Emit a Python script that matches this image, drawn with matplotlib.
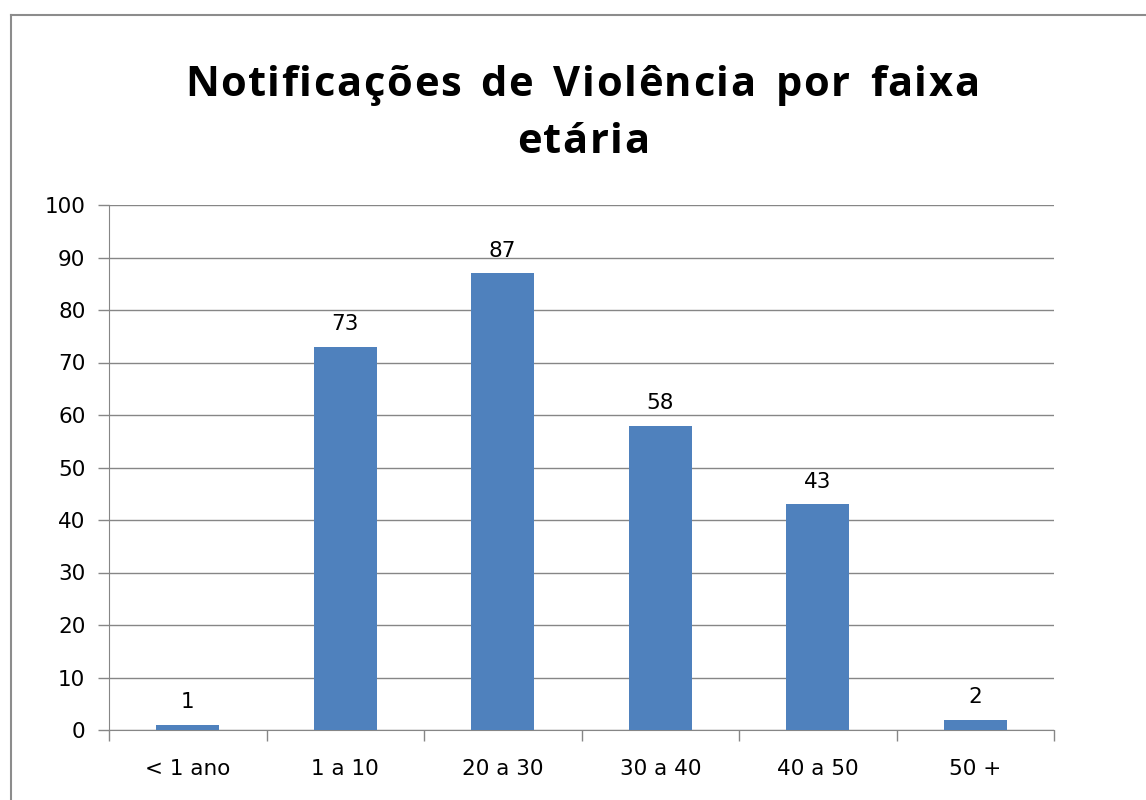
import matplotlib
matplotlib.use("Agg")
import matplotlib.pyplot as plt
from matplotlib.lines import Line2D
from matplotlib.font_manager import FontProperties, findfont, get_font

categories = ["< 1 ano", "1 a 10", "20 a 30", "30 a 40", "40 a 50", "50 +"]
values = [1, 73, 87, 58, 43, 2]
yticks = [0, 10, 20, 30, 40, 50, 60, 70, 80, 90, 100]
title_lines = ["Notificações de Violência por faixa", "etária"]

plt.rcParams['font.family'] = ['DejaVu Sans']

W, H = 1146, 800
DPI = 100
fig = plt.figure(figsize=(W / DPI, H / DPI), dpi=DPI)
fig.patch.set_facecolor("white")

# outer chart border (left and top visible)
fig.add_artist(Line2D([11 / W, 11 / W], [0, 1 - 15 / H], transform=fig.transFigure, color="#8c8c8c", lw=1.5))
fig.add_artist(Line2D([11 / W, 1], [1 - 15 / H, 1 - 15 / H], transform=fig.transFigure, color="#8c8c8c", lw=1.5))

x0, x1 = 109, 1054
y0, y1 = 730, 205
ax = fig.add_axes([x0 / W, 1 - y0 / H, (x1 - x0) / W, (y0 - y1) / H])

LBL = 15.5
xs = list(range(len(categories)))
ax.bar(xs, values, width=0.4, color="#4F81BD", zorder=3)
for x, v in zip(xs, values):
    ax.annotate(str(v), (x, v), xytext=(0, 12), textcoords="offset points",
                ha="center", va="baseline", fontsize=LBL, color="black")

ax.set_xlim(-0.5, len(categories) - 0.5)
ax.set_ylim(0, 100)
ax.set_yticks(yticks)
ax.set_yticklabels([str(t) for t in yticks], fontsize=LBL)
ax.yaxis.grid(True, color="#868686", lw=1, zorder=0)
ax.set_axisbelow(True)

ax.set_xticks(xs)
ax.set_xticklabels(categories, fontsize=LBL)
ax.tick_params(axis="x", length=0, pad=21)
ax.set_xticks([i - 0.5 for i in range(len(categories) + 1)], minor=True)
ax.tick_params(axis="x", which="minor", length=8, color="#868686", width=1)
ax.tick_params(axis="y", length=8, color="#868686", width=1, pad=9)

for s in ["top", "right"]:
    ax.spines[s].set_visible(False)
ax.spines["left"].set_color("#868686")
ax.spines["bottom"].set_color("#868686")

# title drawn character by character with letter spacing (tracking)
TSIZE = 30
tprop = FontProperties(family="Open Sans", weight="bold", size=TSIZE)
font = get_font(findfont(tprop))
font.set_size(TSIZE, DPI)


def advance(ch):
    g = font.load_char(ord(ch))
    return g.linearHoriAdvance / 65536.0


def draw_tracked(line, cx, baseline_y, track, space_extra):
    adv = [advance(c) + track + (space_extra if c == " " else 0) for c in line]
    total = sum(adv) - track
    x = cx - total / 2
    for c, a in zip(line, adv):
        if c != " ":
            fig.text(x / W, 1 - baseline_y / H, c, fontproperties=tprop,
                     ha="left", va="baseline", color="black")
        x += a


draw_tracked(title_lines[0], 582, 96, 1.6, 6)
draw_tracked(title_lines[1], 583, 153, 1.6, 6)

fig.savefig("out.png", dpi=DPI, facecolor="white")
